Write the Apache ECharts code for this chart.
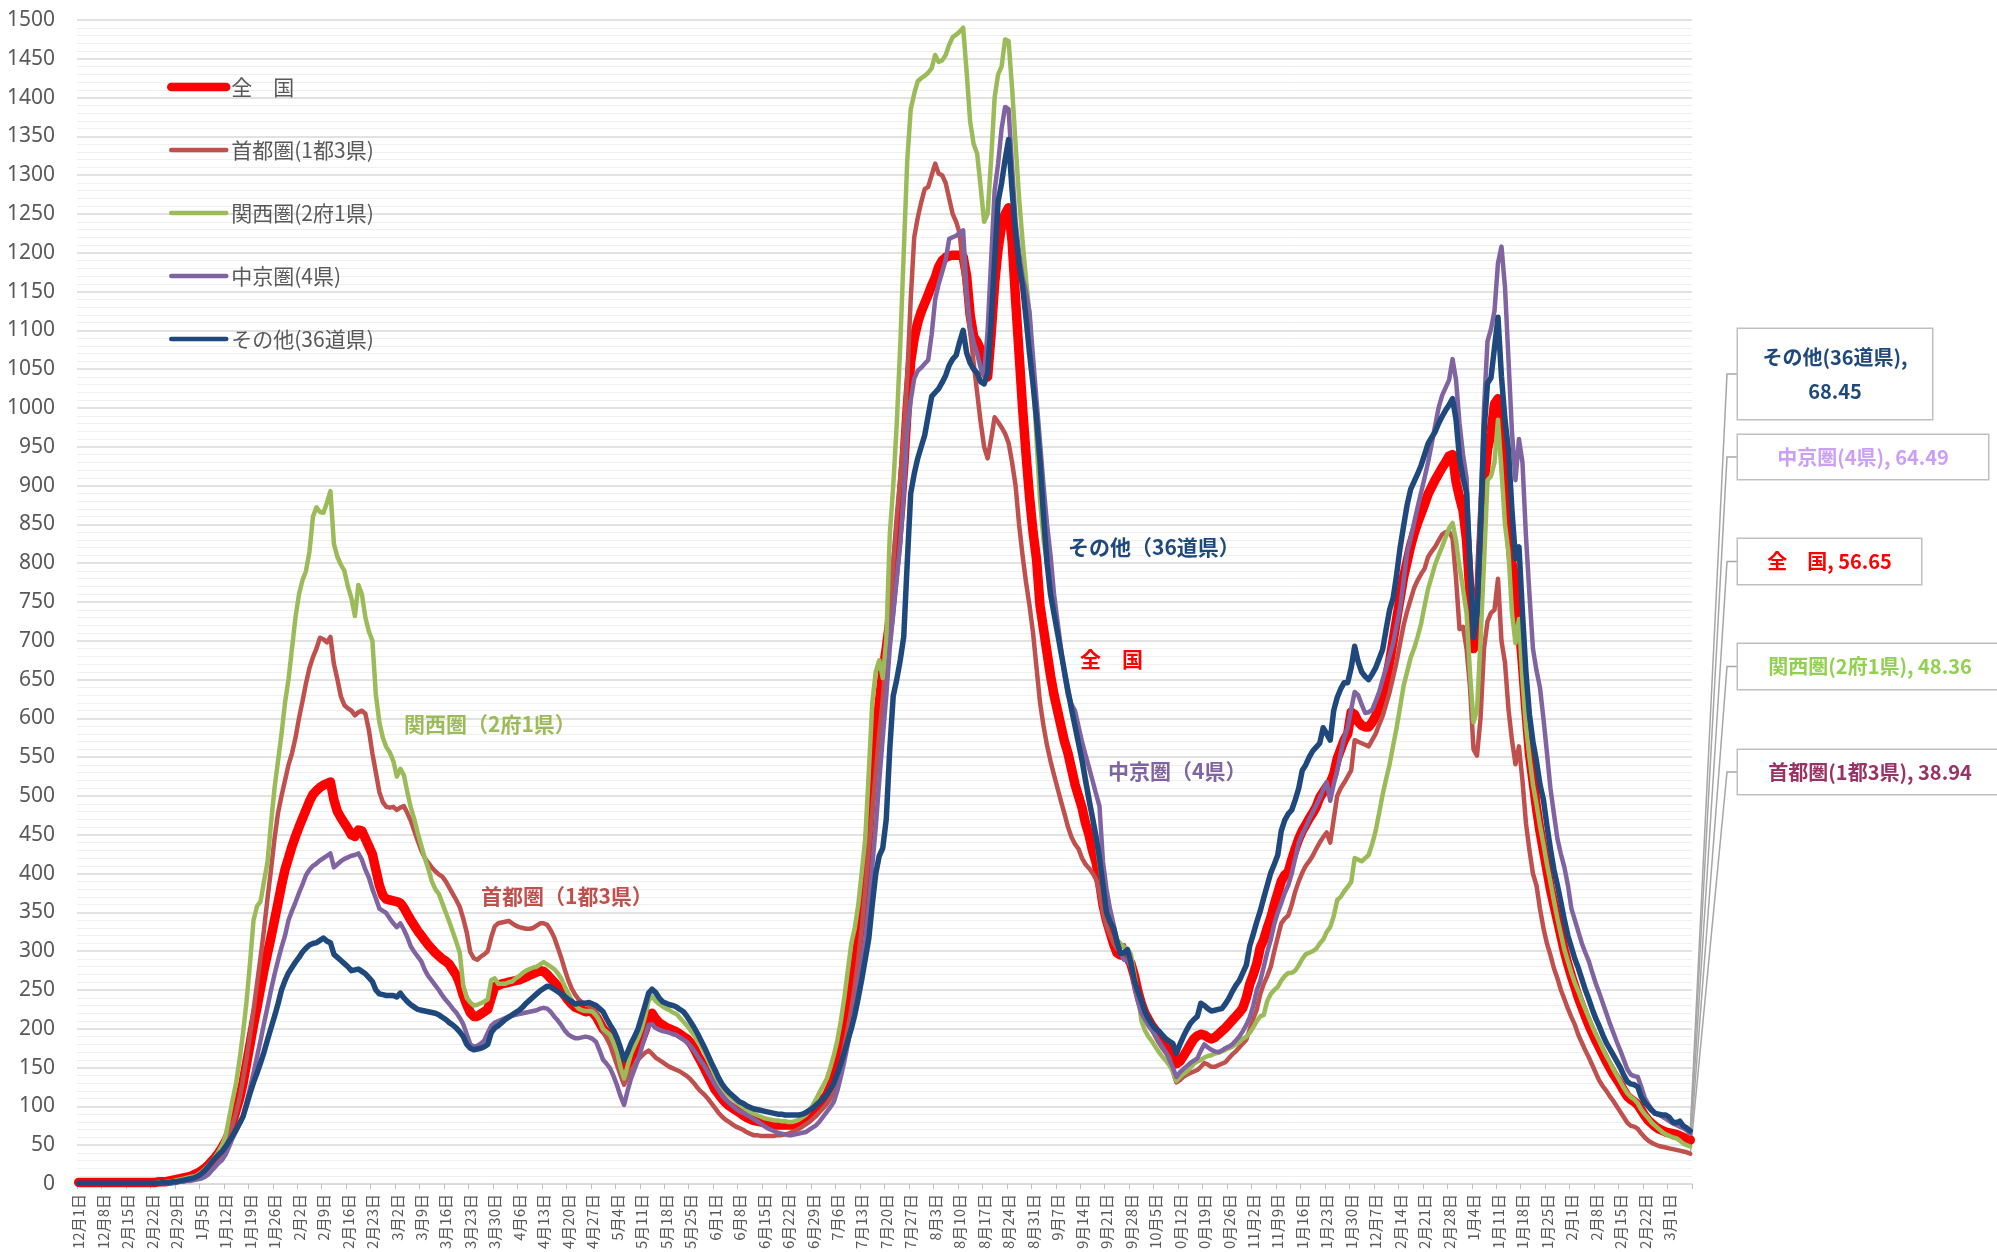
<!DOCTYPE html>
<html><head><meta charset="utf-8">
<script src="https://cdn.jsdelivr.net/npm/echarts@6/dist/echarts.min.js"></script>
<style>html,body{margin:0;padding:0;background:#fff}#c{width:1997px;height:1252px}</style>
</head><body><div id="c"></div>
<script>
// ---- categories: daily, 2021-12-01 .. 2023-03-07 ----
const DAY_COUNT = 462;
const categories = [];
for (let i = 0; i < DAY_COUNT; i++) {
  const d = new Date(2021, 11, 1 + i);
  categories.push((d.getMonth() + 1) + '月' + d.getDate() + '日');
}
const seriesNames = ['全　国', '首都圏(1都3県)', '関西圏(2府1県)', '中京圏(4県)', 'その他(36道県)'];
const inlineLabels = ['関西圏（2府1県）', '首都圏（1都3県）', 'その他（36道県）', '全　国', '中京圏（4県）'];

const zenkoku = [
2,2,2,2,2,2,2, 2,2,2,2,2,2,2, 2,2,2,2,2,2,2, 2,2,3,3,3,4,5,
6,7,8,9,10,12,14, 17,20,24,29,34,40,47, 55,65,80,95,110,130,155, 180,205,228,252,276,297,318,
340,362,385,405,420,435,448, 460,471,482,493,502,507,511, 514,516,518,495,480,472,465, 458,450,448,456,455,445,435,
425,405,385,372,367,366,365, 364,362,356,348,340,333,326, 320,314,308,303,298,294,290, 287,283,276,269,258,243,231,
221,216,216,219,222,225,240, 254,256,258,259,260,261,262, 263,265,267,269,271,273,275, 274,270,265,260,255,249,243,
237,232,228,226,224,222,223, 221,216,208,200,195,189,182, 174,158,145,154,163,170,178, 186,198,215,220,213,208,205,
202,200,198,196,193,190,187, 182,175,166,158,149,140,131, 122,116,110,105,101,98,95, 92,89,86,84,82,81,80,
79,78,77,77,76,76,76, 76,76,77,78,80,82,86, 91,97,103,109,115,125,137, 153,172,196,222,250,280,312,
345,395,455,520,575,620,660, 690,725,770,815,865,925,1000, 1060,1090,1110,1124,1135,1146,1158, 1168,1182,1190,1194,1196,1197,1197,
1197,1195,1170,1120,1092,1085,1075, 1048,1040,1095,1160,1205,1235,1250, 1258,1215,1140,1070,1000,940,885, 840,805,745,715,685,655,630,
610,590,570,555,535,515,500, 485,465,450,430,415,390,360, 340,325,310,298,295,295,292, 284,268,248,232,220,212,204,
198,192,185,178,172,165,155, 158,165,172,180,187,191,193, 192,189,187,189,193,197,201, 206,211,216,221,227,240,258,
270,284,305,315,330,343,360, 375,390,398,402,418,432,445, 455,463,471,478,486,498,505, 512,517,528,548,560,572,580,
608,605,596,591,589,589,595, 603,615,628,650,673,700,728, 755,782,802,822,838,852,864, 876,889,898,907,915,923,930,
938,940,905,885,868,830,760, 690,700,810,900,946,968,1005, 1012,975,910,852,800,775,725, 670,610,555,520,485,455,430,
405,380,360,340,320,300,283, 268,254,240,228,216,205,195, 185,176,167,158,150,142,135, 128,120,113,109,106,102,95,
88,82,78,74,71,69,67, 66,65,64,62,60,58,56.65
];

const shutoken = [
1,1,1,1,1,1,1, 1,1,1,1,1,1,1, 1,1,1,1,1,1,1, 1,1,2,2,2,3,3,
4,5,6,7,8,9,11, 13,16,20,25,30,36,42, 50,62,76,92,110,135,162, 192,224,258,292,328,368,405,
445,478,500,520,540,555,575, 600,622,645,665,679,690,704, 702,698,705,670,650,628,617, 613,610,604,608,610,606,585,
555,530,505,492,486,485,486, 482,485,487,478,468,455,442, 430,420,414,408,403,399,396, 390,382,374,366,357,342,324,
299,291,289,293,296,300,318, 332,336,337,338,339,336,333, 331,330,329,329,330,333,336, 336,334,327,318,305,292,277,
263,252,244,238,234,233,229, 227,222,210,197,188,179,166, 153,140,128,137,146,153,160, 165,169,172,168,163,160,157,
154,151,149,147,145,142,139, 135,130,124,119,115,110,104, 98,92,87,83,80,77,74, 72,70,67,65,63,63,62,
62,62,62,62,63,63,64, 65,67,69,71,74,77,80, 84,88,93,98,103,110,120, 136,155,178,200,225,255,290,
330,380,430,480,530,580,625, 680,740,800,860,910,965,1040, 1140,1220,1245,1265,1282,1285,1300, 1315,1302,1300,1290,1270,1250,1240,
1225,1180,1140,1100,1058,1020,982, 950,935,960,988,982,975,967, 955,930,900,850,810,775,745, 710,665,620,590,565,545,527,
510,493,477,460,447,438,432, 420,412,407,401,393,375,350, 333,321,311,303,305,308,296, 283,265,246,232,220,210,200,
190,182,175,169,163,145,131, 134,138,141,143,145,147,151, 156,154,151,151,153,155,157, 162,167,171,176,181,186,200,
213,225,245,258,268,280,300, 318,336,342,346,360,377,390, 401,410,416,423,432,440,447, 453,440,470,500,510,517,525,
533,572,570,568,566,564,572, 580,592,603,618,634,653,673, 697,720,738,753,768,778,786, 793,808,815,821,829,837,840,
841,832,780,715,718,690,640, 560,552,600,690,725,736,740, 780,700,672,612,572,541,564, 520,465,430,400,385,355,330,
310,295,278,265,250,238,226, 215,205,192,182,172,163,153, 143,133,126,120,113,107,100, 93,86,79,75,74,71,65,
60,56,53,51,49,48,47, 46,45,44,43,42,41,38.94
];

const kansai = [
1,1,1,1,1,1,1, 1,1,1,1,1,1,1, 1,1,1,1,1,1,1, 1,1,2,2,3,3,4,
5,6,7,8,9,10,12, 15,19,24,29,35,42,50, 62,85,108,130,160,195,235, 285,340,358,364,390,415,465,
510,545,580,620,650,690,730, 760,778,790,815,860,872,866, 865,878,893,825,808,798,790, 770,755,732,772,760,730,712,
700,630,595,575,563,556,545, 525,535,527,505,485,470,452, 436,420,406,390,380,374,362, 350,338,325,312,298,255,240,
234,230,231,233,235,238,263, 265,258,258,258,260,261,265, 268,272,275,277,279,280,283, 286,283,280,277,272,265,255,
246,237,231,226,224,223,223, 222,217,210,200,196,192,182, 170,150,136,152,168,178,188, 200,216,236,242,236,232,229,
226,224,221,219,214,209,204, 198,192,185,178,170,160,150, 140,131,124,118,114,110,106, 102,99,96,93,91,89,87,
85,84,83,82,82,81,81, 80,80,81,83,86,89,95, 102,110,119,127,136,150,166, 185,210,240,275,310,330,360,
402,445,530,620,660,675,652, 700,836,900,979,1080,1200,1318, 1385,1405,1421,1425,1428,1432,1438, 1455,1446,1448,1455,1468,1478,1481,
1485,1490,1433,1369,1340,1328,1285, 1240,1250,1320,1400,1430,1440,1475, 1473,1412,1340,1270,1215,1165,1120, 1040,960,880,830,800,768,740,
712,685,660,638,617,597,578, 555,525,500,473,446,413,380, 362,348,332,315,310,305,303, 296,270,245,210,198,190,184,
177,170,164,159,153,145,133, 138,142,145,150,155,158,160, 163,165,166,168,169,171,173, 175,177,180,183,187,190,195,
202,210,216,218,236,245,250, 254,262,268,272,272,275,282, 290,296,298,300,303,310,315, 325,331,345,366,370,377,383,
389,420,418,416,420,424,438, 455,478,502,522,541,565,588, 615,642,660,678,690,705,722, 745,767,782,798,810,821,833,
845,852,829,795,767,736,658, 595,611,700,800,907,912,930, 985,920,850,814,736,697,728, 650,590,550,515,490,462,438,
412,389,365,342,322,302,287, 272,259,248,236,225,214,203, 193,184,174,165,157,148,140, 132,124,117,112,109,104,96,
90,85,79,75,71,67,64, 62,60,59,56,52,50,48.36
];

const chukyo = [
1,1,1,1,1,1,1, 1,1,1,1,1,1,1, 1,1,1,1,1,1,1, 1,1,1,1,1,1,1,
2,3,3,4,4,5,6, 7,9,12,17,22,27,31, 38,48,59,68,78,87,105, 124,143,164,185,207,228,250,
270,288,305,320,340,352,363, 375,386,398,405,410,413,417, 420,423,426,408,412,416,419, 421,423,424,426,418,405,395,
380,368,355,352,349,342,336, 331,336,328,318,306,299,293, 287,276,268,262,256,250,243, 237,232,226,221,214,206,193,
180,177,178,181,185,195,204, 208,210,212,214,216,217,218, 219,220,221,222,223,224,226, 227,226,222,216,211,205,198,
193,190,188,188,189,190,189, 187,183,172,160,155,149,139, 127,113,102,120,136,148,160, 175,190,205,206,201,199,197,
196,195,193,192,189,186,183, 178,172,165,158,152,144,136, 128,121,114,109,105,101,97, 94,92,89,87,84,81,78,
75,72,70,68,66,65,64, 63,63,64,65,66,67,70, 73,76,81,87,93,99,106, 120,138,158,180,205,230,258,
285,315,360,410,460,520,575, 629,690,735,780,825,890,970, 1010,1038,1048,1052,1057,1062,1095, 1140,1160,1175,1191,1218,1220,1222,
1226,1229,1150,1105,1085,1070,1052, 1042,1100,1190,1280,1315,1360,1388, 1385,1310,1240,1200,1168,1150,1123, 1065,1010,955,900,850,810,760,
725,690,655,630,618,610,590, 570,553,537,520,503,487,415, 380,355,335,315,298,289,289, 280,255,235,220,212,204,198,
191,184,177,170,160,150,138, 144,148,152,156,159,162,172, 180,176,173,171,170,172,175, 177,180,185,190,197,205,215,
230,250,262,280,299,315,335, 350,362,375,385,400,420,440, 451,460,470,479,488,497,508, 518,494,515,533,555,575,588,
612,634,630,618,607,608,611, 622,634,650,665,681,697,720, 743,778,813,832,852,872,891, 910,930,953,977,1000,1016,1026,
1036,1063,1036,980,940,910,800, 710,760,870,1000,1086,1102,1125, 1187,1208,1156,1063,969,907,960, 930,835,760,690,662,640,600,
556,510,477,445,425,408,385, 355,340,325,310,298,287,272, 258,246,233,220,207,195,183, 172,160,148,141,139,138,125,
111,103,96,91,89,87,84, 81,78,76,74,72,69,64.49
];

const sonota = [
1,1,1,1,1,1,1, 1,1,1,1,1,1,1, 1,1,1,1,1,1,1, 1,1,1,2,2,2,3,
3,4,5,6,7,8,10, 13,17,22,28,33,38,42, 48,55,62,70,78,87,102, 117,131,143,156,170,186,201,
216,232,250,262,272,279,286, 292,299,304,308,310,311,314, 317,313,311,296,292,288,284, 280,275,276,277,274,271,266,
261,250,245,244,243,243,243, 241,246,240,235,231,228,225, 224,223,222,221,220,218,215, 212,208,205,201,196,190,180,
175,173,174,175,177,180,195, 201,204,208,212,215,218,221, 224,228,233,237,241,245,249, 252,255,254,251,248,245,242,
238,235,232,233,233,233,234, 232,230,226,222,213,205,198, 188,175,160,170,181,190,200, 215,230,246,251,247,240,235,
233,231,230,228,225,222,216, 209,202,194,185,176,166,156, 147,137,129,123,118,114,110, 106,104,101,99,97,96,95,
94,93,92,91,90,90,89, 89,89,89,89,90,92,95, 98,102,106,110,115,122,130, 142,155,170,185,200,218,240,
264,290,316,360,400,423,433, 470,560,629,650,675,705,800, 890,915,935,950,965,990,1015, 1020,1025,1033,1042,1055,1063,1068,
1085,1100,1071,1058,1050,1045,1034, 1031,1045,1110,1190,1266,1290,1320, 1346,1280,1225,1185,1157,1115,1070, 1030,985,930,860,800,760,735,
710,685,660,635,612,590,568, 546,520,495,472,448,420,385, 350,338,330,312,297,298,302, 285,262,248,236,222,213,206,
200,197,192,187,184,181,168, 180,190,199,207,212,216,233, 230,226,223,224,225,226,232, 239,248,256,262,272,282,307,
322,338,352,369,385,401,412, 424,455,469,477,482,495,510, 533,540,550,558,563,568,588, 580,572,610,627,638,646,646,
665,693,673,660,654,650,657, 665,677,689,715,740,755,785, 820,848,875,895,905,915,926, 940,954,962,969,980,989,997,
1004,1012,985,935,910,891,798, 704,736,845,969,1032,1039,1078, 1117,1040,985,946,868,806,821, 736,660,605,570,545,515,495,
462,432,405,385,363,340,320, 305,290,278,264,250,238,225, 213,203,192,182,174,166,158, 150,140,132,129,128,125,112,
105,100,95,91,90,89,89, 86,80,79,81,75,72,68.45
];

const Y_MIN = 0, Y_MAX = 1500, Y_STEP = 50;

// ---- styles ----
const FONT_JP = "'Noto Sans CJK JP', 'Noto Sans', sans-serif";
const lineColors = ['#FF0000', '#C0504D', '#9BBB59', '#8064A2', '#1F497D'];
const lineWidths = [9.5, 4.5, 4.5, 4.5, 5.5];
const boxColors = ['#FF0000', '#993366', '#92D050', '#C9A0F5', '#1F497D'];
const boxes = [
  {cx: 1829.5, cy: 561.5, w: 183, h: 45},
  {cx: 1870, cy: 772, w: 264, h: 44},
  {cx: 1870, cy: 666.5, w: 264, h: 45},
  {cx: 1863, cy: 457, w: 250, h: 44},
  {cx: 1835, cy: 374, w: 194, h: 90}
];
const inlinePos = [
  {x: 404, y: 724, color: '#9BBB59'},
  {x: 481, y: 896, color: '#C0504D'},
  {x: 1068, y: 547, color: '#1F497D'},
  {x: 1080, y: 659, color: '#FF0000'},
  {x: 1108, y: 771, color: '#8064A2'}
];

const allValues = [zenkoku, shutoken, kansai, chukyo, sonota];
const lastIdx = DAY_COUNT - 1;

const series = allValues.map((vals, s) => {
  const b = boxes[s];
  const twoLine = s === 4;
  const lh = twoLine ? 34 : 26;
  const padV = Math.max(0, (b.h - lh * (twoLine ? 2 : 1)) / 2);
  return {
    name: seriesNames[s],
    type: 'line',
    symbol: 'none',
    showSymbol: true,
    showAllSymbol: true,
    z: 2 + s,
    lineStyle: {color: lineColors[s], width: lineWidths[s], join: 'round', cap: 'round'},
    itemStyle: {color: lineColors[s]},
    emphasis: {disabled: true},
    silent: true,
    data: vals.map((v, i) => i === lastIdx ? {
      value: v, symbol: 'circle', symbolSize: 1,
      label: {
        show: true,
        formatter: twoLine ? '{a},\n{c}' : '{a}, {c}',
        color: boxColors[s], fontSize: 20, fontWeight: 'bold', fontFamily: FONT_JP,
        backgroundColor: '#ffffff', borderColor: '#BFBFBF', borderWidth: 1.5,
        padding: [padV, 8], width: b.w - 16, lineHeight: lh, align: 'center'
      }
    } : v),
    labelLayout: {x: b.cx, y: b.cy, align: 'center', verticalAlign: 'middle'}
  };
});

const inlineGraphics = inlineLabels.map((t, k) => ({
  type: 'text', x: inlinePos[k].x, y: inlinePos[k].y, z: 50, silent: true,
  style: {text: t, fill: inlinePos[k].color, font: 'bold 21px ' + FONT_JP, align: 'left', verticalAlign: 'middle'}
}));

const option = {
  animation: false,
  backgroundColor: '#ffffff',
  grid: {left: 77, right: 305, top: 20, bottom: 64, containLabel: false},
  legend: {
    orient: 'vertical', left: 167, top: 75, padding: 0,
    itemWidth: 55, itemHeight: 14, itemGap: 39,
    itemStyle: {opacity: 0},
    textStyle: {color: '#595959', fontSize: 21, fontFamily: FONT_JP, lineHeight: 24},
    data: seriesNames.map((n, s) => ({name: n, lineStyle: {width: s === 0 ? 8.5 : 4.5, cap: 'round', color: lineColors[s]}})),
    selectedMode: false
  },
  xAxis: {
    type: 'category', data: categories, boundaryGap: true,
    axisLine: {show: true, lineStyle: {color: '#D9D9D9', width: 1.5}},
    axisTick: {show: true, interval: 6, length: 5, lineStyle: {color: '#BFBFBF'}},
    axisLabel: {
      interval: 6, rotate: 90, margin: 10, fontSize: 15, color: '#595959', fontFamily: FONT_JP,
      formatter: (v) => v.length > 5 ? v.slice(-5) : v
    },
    splitLine: {show: false}
  },
  yAxis: {
    type: 'value', min: Y_MIN, max: Y_MAX, interval: Y_STEP,
    axisLine: {show: false}, axisTick: {show: false},
    axisLabel: {fontSize: 21, color: '#595959', margin: 22, fontFamily: "'Noto Sans', sans-serif",
      formatter: (v) => String(v)},
    splitLine: {show: true, lineStyle: {color: '#D9D9D9', width: 1.5}},
    minorTick: {show: false, splitNumber: 5},
    minorSplitLine: {show: true, lineStyle: {color: '#EFEFEF', width: 1}}
  },
  series: series,
  graphic: inlineGraphics
};

const chart = echarts.init(document.getElementById('c'), null, {renderer: 'canvas'});
chart.setOption(option);

// leader lines from each series' last point to its label box
const leaders = allValues.map((vals, s) => {
  const p = chart.convertToPixel({gridIndex: 0}, [lastIdx, vals[lastIdx]]);
  const b = boxes[s];
  const left = b.cx - b.w / 2;
  return {
    type: 'polyline', z: 1, silent: true,
    shape: {points: [[p[0], p[1]], [left - 11, b.cy], [left, b.cy]]},
    style: {stroke: '#A6A6A6', lineWidth: 1.5, fill: null}
  };
});
chart.setOption({graphic: inlineGraphics.concat(leaders)});
</script>
</body></html>
